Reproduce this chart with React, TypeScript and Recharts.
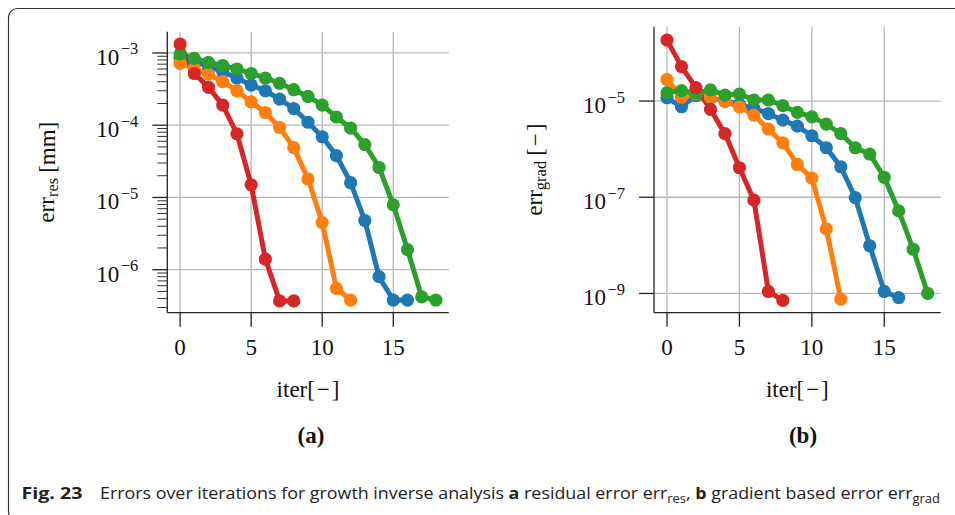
import React from 'react';
import { LineChart, Line, XAxis, YAxis, CartesianGrid, Label } from 'recharts';

// iterations are the index of each value
const resBlue = [8.5e-4, 7.6e-4, 6.5e-4, 5.5e-4, 4.5e-4, 3.6e-4, 3.0e-4, 2.3e-4, 1.7e-4, 1.1e-4, 6.9e-5, 3.8e-5, 1.6e-5, 4.8e-6, 8.0e-7, 3.8e-7, 3.8e-7];
const resOrange = [7.2e-4, 6.1e-4, 5.1e-4, 4.0e-4, 3.0e-4, 2.1e-4, 1.5e-4, 9.3e-5, 4.9e-5, 1.8e-5, 4.5e-6, 5.5e-7, 3.8e-7];
const resGreen = [9.7e-4, 8.4e-4, 7.4e-4, 6.7e-4, 6.0e-4, 5.2e-4, 4.5e-4, 3.8e-4, 3.1e-4, 2.5e-4, 1.9e-4, 1.3e-4, 9.1e-5, 5.4e-5, 2.6e-5, 7.9e-6, 1.9e-6, 4.2e-7, 3.8e-7];
const resRed = [1.33e-3, 5.2e-4, 3.35e-4, 1.9e-4, 7.6e-5, 1.5e-5, 1.4e-6, 3.7e-7, 3.7e-7];

const gradBlue = [1.17e-5, 7.6e-6, 1.3e-5, 1.15e-5, 1.0e-5, 8.5e-6, 7.0e-6, 5.5e-6, 4.0e-6, 3.0e-6, 1.9e-6, 1.07e-6, 4.3e-7, 9.8e-8, 9.8e-9, 1.1e-9, 8.2e-10];
const gradOrange = [2.8e-5, 1.2e-5, 1.4e-5, 1.2e-5, 9.7e-6, 7.6e-6, 5.1e-6, 2.6e-6, 1.35e-6, 4.8e-7, 2.5e-7, 2.2e-8, 7.6e-10];
const gradGreen = [1.5e-5, 1.64e-5, 1.45e-5, 1.7e-5, 1.33e-5, 1.4e-5, 1.05e-5, 1.05e-5, 8.0e-6, 5.8e-6, 4.7e-6, 3.3e-6, 2.1e-6, 1.07e-6, 7.9e-7, 2.6e-7, 5.2e-8, 8.3e-9, 1.0e-9];
const gradRed = [1.85e-4, 5.2e-5, 1.9e-5, 6.7e-6, 2.1e-6, 4.1e-7, 8.7e-8, 1.1e-9, 7.2e-10];

const xTicks = [0, 5, 10, 15];
const resMajor = [1e-3, 1e-4, 1e-5, 1e-6];
const gradMajor = [1e-5, 1e-7, 1e-9];
const resDomain = [2.54e-7, 1.97e-3];
const gradDomain = [3.98e-10, 3.51e-4];
const xDomain = [-0.9, 18.9];

const colors = ['#1f77b4', '#ff7f0e', '#2ca02c', '#d62728'];
const SERIF = "'Liberation Serif', 'Times New Roman', serif";

const toPoints = (values: number[]) => values.map((v, i) => ({ x: i, y: v }));

// minor ticks 2..9 x 10^e inside the domain
const minorTicks = (lo: number, hi: number) => {
  const out: number[] = [];
  for (let e = Math.floor(Math.log10(lo)); e <= Math.ceil(Math.log10(hi)); e++) {
    for (let k = 1; k <= 9; k++) {
      const v = k * Math.pow(10, e);
      if (v >= lo && v <= hi) out.push(v);
    }
  }
  return out;
};

const XTick = ({ x, y, payload }: any) => (
  <g>
    <line x1={x} x2={x} y1={y} y2={y + 14} stroke="#222" strokeWidth={1.3} />
    <text x={x} y={y + 42} textAnchor="middle" fontFamily={SERIF} fontSize={23} fill="#111">
      {payload.value}
    </text>
  </g>
);

const LogTick = ({ x, y, payload }: any) => {
  const e = Math.log10(payload.value);
  const r = Math.round(e);
  if (Math.abs(e - r) > 1e-6) {
    return <line x1={x - 10} x2={x} y1={y} y2={y} stroke="#333" strokeWidth={1} />;
  }
  return (
    <g>
      <line x1={x - 15} x2={x} y1={y} y2={y} stroke="#222" strokeWidth={1.3} />
      <text x={x - 29} y={y + 12} textAnchor="end" fontFamily={SERIF} fontSize={23} fill="#111">
        10
        <tspan dx={1.5} dy={-10.5} fontSize={16.5}>{'\u2212' + Math.abs(r)}</tspan>
      </text>
    </g>
  );
};

const YTitle = ({ viewBox, offset, sub, unit }: any) => {
  if (!viewBox) return null;
  const cx = viewBox.x + offset;
  const cy = viewBox.y + viewBox.height / 2;
  return (
    <text
      x={cx}
      y={cy}
      transform={`rotate(-90 ${cx} ${cy})`}
      textAnchor="middle"
      dominantBaseline="central"
      fontFamily={SERIF}
      fontSize={23}
      fill="#111"
    >
      err
      <tspan dy={5} fontSize={16.5}>{sub}</tspan>
      <tspan dy={-5} dx={5}>{unit}</tspan>
    </text>
  );
};

const XTitle = ({ viewBox }: any) => {
  if (!viewBox) return null;
  return (
    <text
      x={viewBox.x + viewBox.width / 2}
      y={viewBox.y + 84}
      textAnchor="middle"
      fontFamily={SERIF}
      fontSize={23}
      fill="#111"
    >
      {'iter[\u200a\u2212\u200a]'}
    </text>
  );
};

interface PanelProps {
  series: number[][];
  domain: number[];
  major: number[];
  minor: boolean;
  width: number;
  margin: { top: number; right: number; bottom: number; left: number };
  yWidth: number;
  titleOffset: number;
  sub: string;
  unit: string;
}

const Panel: React.FC<PanelProps> = ({ series, domain, major, minor, width, margin, yWidth, titleOffset, sub, unit }) => {
  const yTicks = minor ? minorTicks(domain[0], domain[1]) : major;
  return (
    <LineChart width={width} height={420} margin={margin}>
      <CartesianGrid
        stroke="#b8b8b8"
        strokeWidth={1.3}
        horizontalValues={major}
        verticalValues={xTicks}
      />
      <XAxis
        dataKey="x"
        type="number"
        domain={xDomain}
        ticks={xTicks}
        interval={0}
        allowDataOverflow
        height={90}
        tickSize={0}
        tickMargin={0}
        tickLine={false}
        tick={<XTick />}
        axisLine={{ stroke: '#222', strokeWidth: 1.3 }}
      >
        <Label content={(p: any) => <XTitle viewBox={p.viewBox} />} />
      </XAxis>
      <XAxis xAxisId="top" orientation="top" type="number" domain={xDomain} height={0} tick={false} tickLine={false} axisLine={{ stroke: '#222', strokeWidth: 1.3 }} />
      <YAxis
        type="number"
        scale="log"
        domain={domain}
        allowDataOverflow
        ticks={yTicks}
        interval={0}
        width={yWidth}
        tickSize={0}
        tickMargin={0}
        tickLine={false}
        tick={<LogTick />}
        axisLine={{ stroke: '#222', strokeWidth: 1.3 }}
      >
        <Label content={(p: any) => <YTitle viewBox={p.viewBox} offset={titleOffset} sub={sub} unit={unit} />} />
      </YAxis>
      <YAxis yAxisId="right" orientation="right" type="number" width={0} tick={false} tickLine={false} axisLine={{ stroke: '#222', strokeWidth: 1.3 }} />
      {series.map((values, i) => (
        <Line
          key={i}
          data={toPoints(values)}
          dataKey="y"
          type="linear"
          stroke={colors[i]}
          strokeWidth={5}
          dot={{ r: 6.6, fill: colors[i], stroke: colors[i], strokeWidth: 0 }}
          activeDot={false}
          isAnimationActive={false}
        />
      ))}
    </LineChart>
  );
};

const CAPTION_FONT = "'Open Sans', 'Noto Sans', sans-serif";

export default function App() {
  return (
    <div style={{ position: 'absolute', left: 0, top: 0, width: 955, height: 515, background: '#fff', overflow: 'hidden' }}>
      <svg width={955} height={515} style={{ position: 'absolute', left: 0, top: 0 }}>
        <rect x={8.5} y={8.5} width={980} height={512} rx={9} fill="none" stroke="#333" strokeWidth={1.2} />
        <text x={311} y={443} textAnchor="middle" fontFamily={SERIF} fontWeight="bold" fontSize={23} fill="#111">(a)</text>
        <text x={803} y={443} textAnchor="middle" fontFamily={SERIF} fontWeight="bold" fontSize={23} fill="#111">(b)</text>
        <text x={21.5} y={498.5} fontFamily={CAPTION_FONT} fontWeight="bold" fontSize={16.5} fill="#222" textLength={61} lengthAdjust="spacingAndGlyphs">
          Fig. 23
        </text>
        <text x={100} y={498.5} fontFamily={CAPTION_FONT} fontSize={16.5} fill="#222" textLength={840} lengthAdjust="spacingAndGlyphs">
          Errors over iterations for growth inverse analysis <tspan fontWeight="bold">a</tspan> residual error err
          <tspan dy={4} fontSize={12}>res</tspan>
          <tspan dy={-4}>, </tspan>
          <tspan fontWeight="bold">b</tspan> gradient based error err
          <tspan dy={4} fontSize={12}>grad</tspan>
        </text>
      </svg>
      <div style={{ position: 'absolute', left: 0, top: 0 }}>
        <Panel
          series={[resBlue, resOrange, resGreen, resRed]}
          domain={resDomain}
          major={resMajor}
          minor
          width={470}
          margin={{ top: 31.7, right: 21.3, bottom: 17.3, left: 30 }}
          yWidth={137.3}
          titleOffset={16.7}
          sub="res"
          unit="[mm]"
        />
      </div>
      <div style={{ position: 'absolute', left: 480, top: 0 }}>
        <Panel
          series={[gradBlue, gradOrange, gradGreen, gradRed]}
          domain={gradDomain}
          major={gradMajor}
          minor={false}
          width={475}
          margin={{ top: 26.7, right: 14.3, bottom: 17.3, left: 20 }}
          yWidth={154}
          titleOffset={35}
          sub="grad"
          unit={'[\u200a\u2212\u200a]'}
        />
      </div>
    </div>
  );
}
